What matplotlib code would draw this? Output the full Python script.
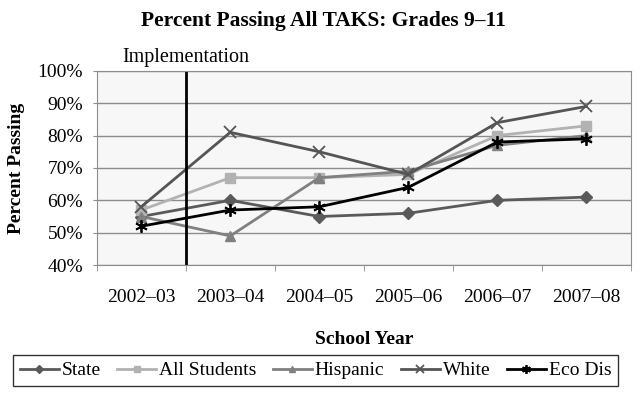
import numpy as np
import matplotlib.pyplot as plt
from matplotlib.ticker import FixedLocator

years = ["2002\u201303", "2003\u201304", "2004\u201305", "2005\u201306", "2006\u201307", "2007\u201308"]
state = [55, 60, 55, 56, 60, 61]
all_students = [57, 67, 67, 68, 80, 83]
hispanic = [55, 49, 67, 69, 77, 80]
white = [58, 81, 75, 68, 84, 89]
eco_dis = [52, 57, 58, 64, 78, 79]

plt.rcParams['font.family'] = ['Liberation Serif', 'DejaVu Serif']

fig = plt.figure(figsize=(6.41, 3.98), dpi=100)
ax = fig.add_axes([0.151, 0.334, 0.833, 0.488])
ax.set_facecolor('#f7f7f7')

x = np.arange(len(years))
ax.plot(x, state, color='#5a5a5a', lw=2, marker='D', ms=6, label='State')
ax.plot(x, all_students, color='#b2b2b2', lw=2, marker='s', ms=7, label='All Students')
ax.plot(x, hispanic, color='#808080', lw=2, marker='^', ms=7, label='Hispanic')
ax.plot(x, white, color='#555555', lw=2, marker='x', ms=8, mew=1.3, label='White')
ax.plot(x, eco_dis, color='black', lw=2, marker=(6, 2, 0), ms=9, mew=1.3, label='Eco Dis')

# implementation marker between 2002-03 and 2003-04
ax.axvline(0.5, color='black', lw=2)
ax.text(0.5, 101.2, 'Implementation', ha='center', va='bottom', fontsize=14.5)

ax.set_xlim(-0.5, 5.5)
ax.set_ylim(40, 100)
ax.set_yticks(range(40, 101, 10))
ax.set_yticklabels([f'{v}%' for v in range(40, 101, 10)], fontsize=14)
ax.set_xticks(x)
ax.set_xticklabels(years, fontsize=14)
ax.xaxis.set_minor_locator(FixedLocator(np.arange(-0.5, 6, 1)))
ax.tick_params(axis='x', which='major', length=0, pad=17)
ax.tick_params(axis='x', which='minor', length=4, color='#8c8c8c', direction='out')
ax.tick_params(axis='y', length=3, color='#8c8c8c', pad=7)
ax.yaxis.grid(True, color='#8c8c8c', lw=1)
ax.set_axisbelow(True)
for s in ax.spines.values():
    s.set_color('#8c8c8c')

ax.set_ylabel('Percent Passing', fontsize=14, fontweight='bold', labelpad=9)
ax.set_xlabel('School Year', fontsize=14, fontweight='bold', labelpad=18)
fig.text(0.505, 0.948, 'Percent Passing All TAKS: Grades 9\u201311', ha='center', va='center',
         fontsize=15.5, fontweight='bold')

leg = fig.legend(loc='center', bbox_to_anchor=(0.492, 0.069), ncol=5, fontsize=14,
                 fancybox=False, edgecolor='black', handlelength=2.0, markerscale=0.7,
                 handletextpad=0.15, columnspacing=0.85, borderpad=0.35)
leg.get_frame().set_linewidth(1.0)

fig.savefig('out.png', dpi=100)
